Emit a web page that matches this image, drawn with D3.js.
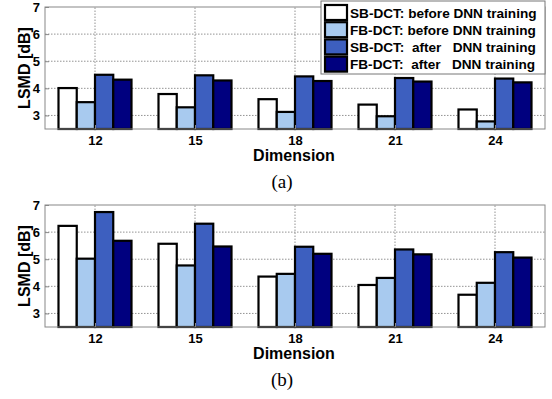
<!DOCTYPE html>
<html>
<head>
<meta charset="utf-8">
<script src="https://cdn.jsdelivr.net/npm/d3@7"></script>
<style>
  body { margin: 0; background: #fff; }
  svg { display: block; }
</style>
</head>
<body>
<svg id="chart" width="552" height="399"></svg>
<script>
// chart data
const dimensions = [12, 15, 18, 21, 24];
const seriesNames = [
  "SB-DCT: before DNN training",
  "FB-DCT: before DNN training",
  "SB-DCT:  after   DNN training",
  "FB-DCT:  after   DNN training"
];
const seriesColors = ["#ffffff", "#a8caef", "#3d5fbf", "#00007f"];
const yTicks = [3, 4, 5, 6, 7];

// panel (a)
const sbBeforeA = [4.01, 3.79, 3.60, 3.40, 3.22];
const fbBeforeA = [3.49, 3.30, 3.13, 2.97, 2.78];
const sbAfterA  = [4.50, 4.48, 4.44, 4.38, 4.36];
const fbAfterA  = [4.32, 4.29, 4.27, 4.25, 4.22];

// panel (b)
const sbBeforeB = [6.23, 5.57, 4.36, 4.05, 3.69];
const fbBeforeB = [5.02, 4.77, 4.46, 4.31, 4.13];
const sbAfterB  = [6.74, 6.31, 5.46, 5.36, 5.26];
const fbAfterB  = [5.68, 5.47, 5.20, 5.18, 5.06];

const svg = d3.select("#chart");
const fontSans = "Liberation Sans, Arial, Helvetica, sans-serif";

function drawPanel(top, series, caption, withLegend) {
  const left = 45, right = 545, height = 122;
  const x = d3.scaleLinear().domain([10.5, 25.5]).range([left, right]);
  const y = d3.scaleLinear().domain([2.5, 7]).range([top + height, top]);
  const inner = d3.scaleBand().domain(d3.range(seriesNames.length)).range([-1.095, 1.095]);

  const g = svg.append("g");

  // dotted grid
  g.selectAll("line.gy").data(yTicks.filter(t => t < 7)).join("line")
    .attr("x1", left).attr("x2", right)
    .attr("y1", d => y(d)).attr("y2", d => y(d))
    .attr("stroke", "#777").attr("stroke-width", 0.8).attr("stroke-dasharray", "1.5,1.5");
  g.selectAll("line.gx").data(dimensions).join("line")
    .attr("x1", d => x(d)).attr("x2", d => x(d))
    .attr("y1", y(2.5)).attr("y2", y(7))
    .attr("stroke", "#777").attr("stroke-width", 0.8).attr("stroke-dasharray", "1.5,1.5");

  // bars
  const rows = [];
  series.forEach((vals, si) => vals.forEach((v, i) => rows.push({ si, dim: dimensions[i], v })));
  g.selectAll("rect.bar").data(rows).join("rect")
    .attr("x", d => x(d.dim + inner(d.si)))
    .attr("width", x(inner.bandwidth()) - x(0))
    .attr("y", d => y(d.v))
    .attr("height", d => y(2.5) - y(d.v))
    .attr("fill", d => seriesColors[d.si])
    .attr("stroke", "#000").attr("stroke-width", 2.2);

  // axes box
  g.append("rect")
    .attr("x", left).attr("y", top).attr("width", right - left).attr("height", height)
    .attr("fill", "none").attr("stroke", "#888").attr("stroke-width", 1);

  const yAxis = d3.axisLeft(y).tickValues(yTicks).tickSize(-4).tickPadding(5).tickFormat(d3.format("d"));
  const ya = g.append("g").attr("transform", `translate(${left},0)`).call(yAxis);
  const xAxis = d3.axisBottom(x).tickValues(dimensions).tickSize(-4).tickPadding(7);
  const xa = g.append("g").attr("transform", `translate(0,${top + height})`).call(xAxis);
  [ya, xa].forEach(a => {
    a.select(".domain").remove();
    a.selectAll(".tick line").attr("stroke", "#888");
    a.selectAll("text").attr("font-family", fontSans).attr("font-weight", "bold")
      .attr("font-size", 13).attr("fill", "#000");
  });

  g.append("text")
    .attr("transform", `translate(30,${top + 61}) rotate(-90)`)
    .attr("text-anchor", "middle")
    .attr("font-family", fontSans).attr("font-weight", "bold").attr("font-size", 16)
    .text("LSMD [dB]");
  g.append("text")
    .attr("x", 294).attr("y", top + height + 32)
    .attr("text-anchor", "middle")
    .attr("font-family", fontSans).attr("font-weight", "bold").attr("font-size", 16)
    .text("Dimension");
  g.append("text")
    .attr("x", 282).attr("y", top + height + 59)
    .attr("text-anchor", "middle")
    .attr("font-family", "Liberation Serif, Times New Roman, serif").attr("font-size", 19)
    .text(caption);

  if (withLegend) {
    const lg = g.append("g");
    lg.append("rect")
      .attr("x", 321).attr("y", 1).attr("width", 224).attr("height", 73)
      .attr("fill", "#fff").attr("stroke", "#777").attr("stroke-width", 1);
    const item = lg.selectAll("g.item").data(seriesNames).join("g")
      .attr("transform", (d, i) => `translate(325,${5 + i * 17.2})`);
    item.append("rect")
      .attr("width", 22).attr("height", 15)
      .attr("fill", (d, i) => seriesColors[i])
      .attr("stroke", "#000").attr("stroke-width", 2.2);
    item.append("text")
      .attr("x", 25).attr("y", 12.8)
      .attr("font-family", fontSans).attr("font-weight", "bold").attr("font-size", 13.6)
      .style("white-space", "pre")
      .text(d => d);
  }
}

drawPanel(7, [sbBeforeA, fbBeforeA, sbAfterA, fbAfterA], "(a)", true);
drawPanel(205, [sbBeforeB, fbBeforeB, sbAfterB, fbAfterB], "(b)", false);
</script>
</body>
</html>
